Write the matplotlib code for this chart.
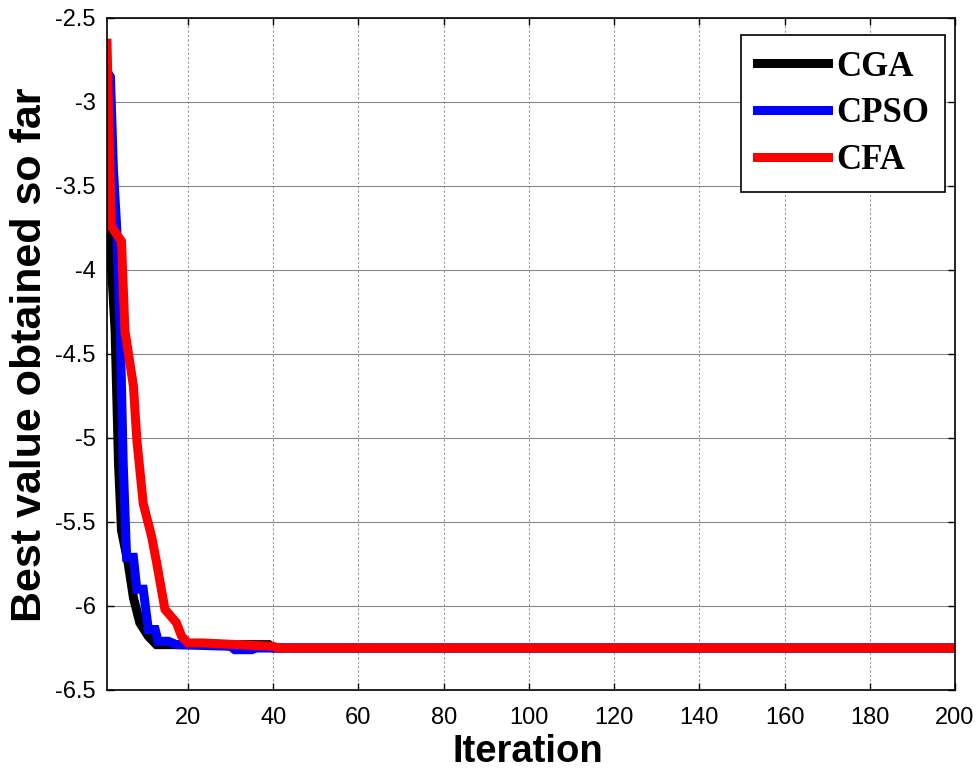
import matplotlib
matplotlib.use("Agg")
import matplotlib.pyplot as plt

# Data (iteration, best value)
cga_x = [1, 2, 2.9, 3.7, 4.4, 6, 7.2, 8.7, 10.7, 12.6, 39, 40, 200]
cga_y = [-3.71, -3.95, -4.36, -5.15, -5.55, -5.75, -5.95, -6.10, -6.18, -6.23, -6.23, -6.25, -6.25]

cpso_x = [1, 1.8, 2.5, 3.3, 4.1, 4.8, 5.6, 7.2, 8, 9.5, 10.7, 12.3, 13, 15.4, 17.3, 30, 31, 35, 36, 200]
cpso_y = [-2.82, -2.85, -3.40, -3.76, -4.36, -5.15, -5.71, -5.71, -5.90, -5.90, -6.14, -6.14, -6.21, -6.21, -6.23, -6.24, -6.26, -6.26, -6.25, -6.25]

cfa_x = [1, 1.6, 2, 4.4, 5.2, 7.2, 8, 9.5, 11.5, 12.7, 14.6, 17.3, 18.5, 20, 23.5, 40, 41, 200]
cfa_y = [-2.65, -3.30, -3.74, -3.83, -4.36, -4.69, -5.01, -5.39, -5.59, -5.75, -6.02, -6.10, -6.18, -6.22, -6.22, -6.24, -6.25, -6.25]

series_names = ["CGA", "CPSO", "CFA"]
series_colors = ["black", "blue", "red"]

xticks = [20, 40, 60, 80, 100, 120, 140, 160, 180, 200]
yticks = [-6.5, -6, -5.5, -5, -4.5, -4, -3.5, -3, -2.5]
ytick_labels = ["-6.5", "-6", "-5.5", "-5", "-4.5", "-4", "-3.5", "-3", "-2.5"]

W, H = 979, 771
fig = plt.figure(figsize=(W / 100, H / 100), dpi=100)
ax = fig.add_axes([107 / W, 1 - 690 / H, 848 / W, 672 / H])

for xs, ys, name, c in zip([cga_x, cpso_x, cfa_x], [cga_y, cpso_y, cfa_y], series_names, series_colors):
    ax.plot(xs, ys, color=c, lw=6.5, label=name, solid_joinstyle="miter")

ax.set_xlim(1, 200)
ax.set_ylim(-6.5, -2.5)
ax.set_xticks(xticks)
ax.set_yticks(yticks)
ax.set_yticklabels(ytick_labels)

ax.yaxis.grid(True, color="#888888", lw=0.8, ls="-")
ax.xaxis.grid(True, color="#999999", lw=0.8, ls=(0, (2, 2)))
ax.set_axisbelow(True)

ax.tick_params(direction="in", top=True, right=True, length=5, width=1,
               labelsize=17, pad=8)
ax.tick_params(axis="x", pad=12)
for lab in ax.get_xticklabels() + ax.get_yticklabels():
    lab.set_fontfamily("Liberation Sans")
for s in ax.spines.values():
    s.set_linewidth(1.2)

fig.text(528 / W, 1 / H, "Iteration", fontsize=27.5, fontweight="bold",
         family="Liberation Sans", ha="center", va="bottom")
fig.text(30 / W, 1 - 355 / H, "Best value obtained so far", fontsize=31, fontweight="bold",
         family="Liberation Sans", ha="center", va="center", rotation=90)

leg = ax.legend(loc="upper right", bbox_to_anchor=((945 - 107) / 848, 1 - (35 - 18) / 672),
                prop={"family": "Liberation Serif", "weight": "bold", "size": 25},
                handlelength=2.05, frameon=True, fancybox=False, borderpad=0.45,
                labelspacing=0.39, handletextpad=0.25, borderaxespad=0.0)
leg.get_frame().set_edgecolor("black")
leg.get_frame().set_linewidth(1.2)
leg.get_frame().set_alpha(1)
for l in leg.get_lines():
    l.set_linewidth(6.5)

fig.savefig("out.png", dpi=100)
